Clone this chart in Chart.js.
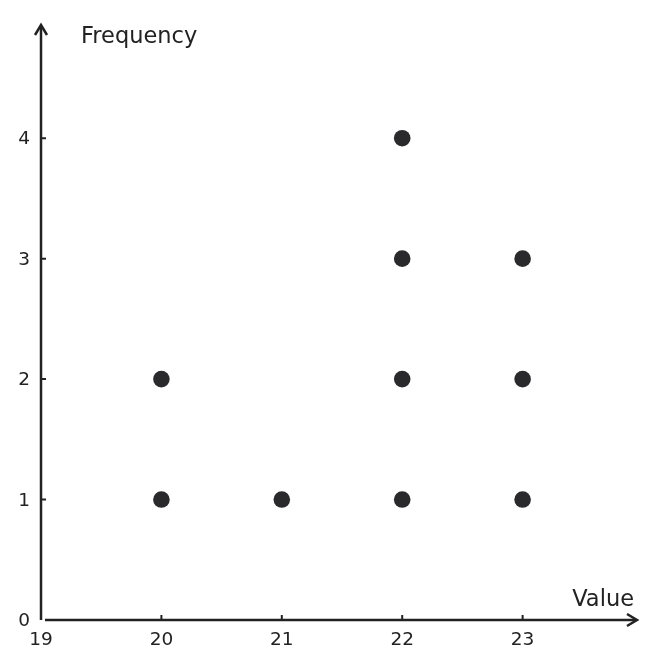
<!DOCTYPE html>
<html>
<head>
<meta charset="utf-8">
<script src="https://cdn.jsdelivr.net/npm/chart.js@4"></script>
<style>
  html, body { margin: 0; padding: 0; background: #fff; }
  #wrap { width: 661px; height: 668px; position: relative; }
</style>
</head>
<body>
<div id="wrap"><canvas id="dot-chart"></canvas></div>
<script>
// data
const values = [20, 20, 21, 22, 22, 22, 22, 23, 23, 23];
const counts = [1, 2, 1, 1, 2, 3, 4, 1, 2, 3];
const xTicks = [19, 20, 21, 22, 23];
const yTicks = [0, 1, 2, 3, 4];

const ink = '#222222';
const font = '"DejaVu Sans", sans-serif';

const points = values.map((v, i) => ({ x: v, y: counts[i] }));

// axes with arrows, inward tick marks and labels
const arrowAxes = {
    id: 'arrowAxes',
    afterDatasetsDraw(chart) {
        const ctx = chart.ctx;
        const xs = chart.scales.x;
        const ys = chart.scales.y;
        const x0 = xs.getPixelForValue(xs.min);
        const y0 = ys.getPixelForValue(ys.min);
        const xEnd = xs.getPixelForValue(xs.max);
        const yEnd = ys.getPixelForValue(ys.max);

        ctx.save();
        ctx.strokeStyle = ink;
        ctx.lineWidth = 2.5;
        ctx.lineCap = 'butt';

        ctx.beginPath();
        ctx.moveTo(x0, y0);
        ctx.lineTo(x0, yEnd + 1);
        ctx.moveTo(x0 + 4, y0);
        ctx.lineTo(xEnd - 1, y0);
        ctx.stroke();

        // arrow heads
        ctx.lineJoin = 'miter';
        ctx.beginPath();
        ctx.moveTo(x0 - 6, yEnd + 10);
        ctx.lineTo(x0, yEnd);
        ctx.lineTo(x0 + 6, yEnd + 10);
        ctx.moveTo(xEnd - 10, y0 - 6);
        ctx.lineTo(xEnd, y0);
        ctx.lineTo(xEnd - 10, y0 + 6);
        ctx.stroke();

        // tick marks
        ctx.lineWidth = 2;
        ctx.beginPath();
        xTicks.slice(1).forEach(t => {
            const px = xs.getPixelForValue(t);
            ctx.moveTo(px, y0);
            ctx.lineTo(px, y0 - 5);
        });
        yTicks.slice(1).forEach(t => {
            const py = ys.getPixelForValue(t);
            ctx.moveTo(x0, py);
            ctx.lineTo(x0 + 5, py);
        });
        ctx.stroke();

        // tick labels
        ctx.fillStyle = ink;
        ctx.font = '18.5px ' + font;
        ctx.textBaseline = 'alphabetic';
        ctx.textAlign = 'center';
        xTicks.forEach(t => {
            ctx.fillText(String(t), xs.getPixelForValue(t), y0 + 25);
        });
        ctx.textAlign = 'right';
        yTicks.forEach(t => {
            ctx.fillText(String(t), x0 - 11, ys.getPixelForValue(t) + 6);
        });

        // axis titles
        ctx.font = '22.5px ' + font;
        ctx.textAlign = 'left';
        ctx.fillText('Frequency', x0 + 40, yEnd + 18);
        ctx.textAlign = 'right';
        ctx.fillText('Value', xEnd - 3, y0 - 14);
        ctx.restore();
    }
};

new Chart(document.getElementById('dot-chart').getContext('2d'), {
    type: 'scatter',
    data: {
        datasets: [{
            label: 'Frequency',
            data: points,
            backgroundColor: '#2a2a2d',
            borderColor: '#2a2a2d',
            borderWidth: 0,
            pointRadius: 8.3,
            pointHoverRadius: 8.3
        }]
    },
    options: {
        responsive: true,
        maintainAspectRatio: false,
        animation: false,
        events: [],
        layout: { padding: { left: 41, right: 24, top: 25, bottom: 48 } },
        plugins: {
            legend: { display: false },
            tooltip: { enabled: false }
        },
        scales: {
            x: { type: 'linear', min: 19, max: 23.95, display: false },
            y: { type: 'linear', min: 0, max: 4.94, display: false }
        }
    },
    plugins: [arrowAxes]
});
</script>
</body>
</html>
